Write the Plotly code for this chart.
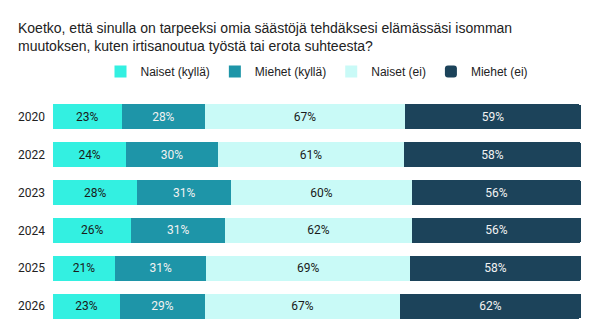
import plotly.graph_objects as go

years = ["2020", "2022", "2023", "2024", "2025", "2026"]
naiset_kylla = [23, 24, 28, 26, 21, 23]
miehet_kylla = [28, 30, 31, 31, 31, 29]
naiset_ei = [67, 61, 60, 62, 69, 67]
miehet_ei = [59, 58, 56, 56, 58, 62]

series = [
    ("Naiset (kyllä)", naiset_kylla, "#33F0E1", "#1a1a1a"),
    ("Miehet (kyllä)", miehet_kylla, "#1E95A8", "#f2f2f2"),
    ("Naiset (ei)", naiset_ei, "#C9FAF7", "#1a1a1a"),
    ("Miehet (ei)", miehet_ei, "#1C435A", "#f2f2f2"),
]

fig = go.Figure()
for name, vals, color, tcolor in series:
    fig.add_trace(go.Bar(
        y=years, x=vals, name=name, orientation="h",
        marker=dict(color=color, line=dict(width=0)),
        text=[f"{v}%" for v in vals], texttemplate="%{text}",
        textposition="inside", insidetextanchor="middle",
        textfont=dict(family="Roboto", size=12, color=tcolor),
        hoverinfo="skip",
    ))

fig.update_layout(
    width=600, height=336,
    barmode="stack", barnorm="percent", bargap=0.34,
    margin=dict(l=53, r=19, t=98, b=11),
    paper_bgcolor="white", plot_bgcolor="white",
    title=dict(
        text="Koetko, että sinulla on tarpeeksi omia säästöjä tehdäksesi elämässäsi isomman<br>muutoksen, kuten irtisanoutua työstä tai erota suhteesta?",
        x=18 / 600, xref="container", xanchor="left", y=0.903, yanchor="top",
        font=dict(family="Liberation Sans, Arial", size=14, color="#222"),
    ),
    legend=dict(
        orientation="h", x=0.5, xanchor="center", y=1.117, yanchor="middle",
        font=dict(family="Liberation Sans, Arial", size=12, color="#222"),
        itemwidth=30, traceorder="normal",
    ),
    xaxis=dict(visible=False, range=[0, 100], fixedrange=True),
    yaxis=dict(
        autorange="reversed", showgrid=False, zeroline=False, showline=False,
        ticks="", ticklabelstandoff=7,
        tickfont=dict(family="Roboto", size=12, color="#222"),
    ),
)
fig.update_traces(selector=dict(name="Miehet (ei)"), marker_cornerradius=2)

fig.write_html("out.html")
